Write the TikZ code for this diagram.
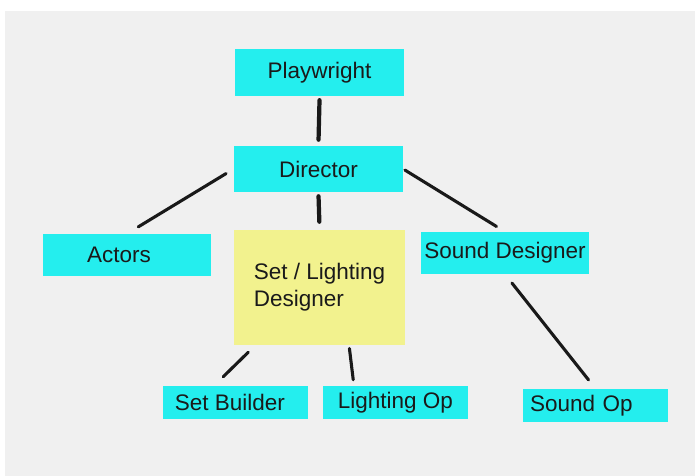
\documentclass[tikz,border=0pt]{standalone}
\usepackage{fontspec}
\setmainfont{Liberation Sans}
\usepackage{tikz}

\definecolor{bggray}{HTML}{F0F0F0}
\definecolor{rolecyan}{HTML}{24EEEE}
\definecolor{roleyellow}{HTML}{F2F28E}
\definecolor{inkgray}{HTML}{1A1A1A}

\begin{document}
\begin{tikzpicture}[
        rolebox/.style={fill=rolecyan, text=inkgray, inner sep=0pt, font=\fontsize{16}{19}\selectfont},
        link/.style={draw=black!90, line width=2.2pt, line cap=round}
    ]
        % Background
        \useasboundingbox (0,0) rectangle (17.375,11.9);
        \fill[white] (0,0) rectangle (17.375,11.9);
        \fill[bggray] (0.12,0) rectangle (17.375,11.62);

        % Roles
        \node[rolebox, minimum width=4.225cm, minimum height=1.175cm] (Playwright) at (7.99,10.09) {Playwright};
        \node[rolebox, minimum width=4.225cm, minimum height=1.15cm] (Director) at (7.96,7.675) {Director};
        \node[rolebox, minimum width=4.2cm, minimum height=1.05cm] (Actors) at (3.175,5.525) {\hspace{-0.4cm}Actors};
        \node[rolebox, fill=roleyellow, minimum width=4.275cm, minimum height=2.875cm, align=left] (SetLight) at (7.99,4.7125) {Set / Lighting\\Designer};
        \node[rolebox, minimum width=4.2cm, minimum height=1.05cm] (SoundDes) at (12.625,5.575) {\raisebox{-0.08cm}{Sound Designer}};
        \node[rolebox, minimum width=3.625cm, minimum height=0.825cm] (SetBuilder) at (5.8875,1.8375) {\hspace{-0.28cm}Set Builder};
        \node[rolebox, minimum width=3.625cm, minimum height=0.825cm] (LightOp) at (9.8875,1.8375) {Lighting Op};
        \node[rolebox, minimum height=0.825cm, text width=3.275cm, inner xsep=0.175cm, align=left] (SoundOp) at (14.8875,1.7625) {Sound Op};

        % Links
        \draw[link, line width=3pt, shorten <=0.1cm, shorten >=0.15cm] (Playwright.south) -- (Director.north);
        \draw[link, line width=3pt, shorten <=0.1cm, shorten >=0.2cm] (Director.south) -- (SetLight.north);
        \draw[link, shorten <=0.22cm, shorten >=0.33cm] (Director.west) -- (Actors.north);
        \draw[link, shorten <=0.05cm, shorten >=0.25cm] (Director.east) -- (SoundDes.north);
        \draw[link, shorten <=0.28cm, shorten >=0.28cm] (SoundDes.south) -- (SoundOp.north);
        \draw[link, shorten <=0.25cm, shorten >=0.32cm] (SetLight.222) -- (SetBuilder.142);
        \draw[link, shorten <=0.08cm, shorten >=0.15cm] (SetLight.297) -- (LightOp.158);
    \end{tikzpicture}
\end{document}
